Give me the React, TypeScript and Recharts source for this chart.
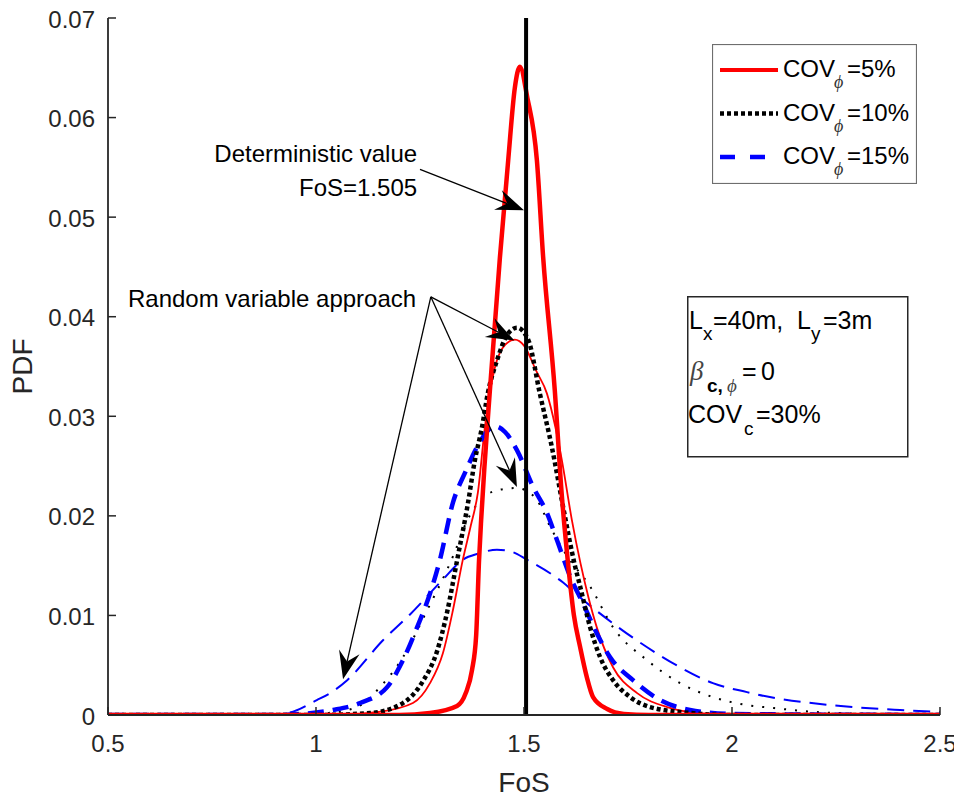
import React from 'react';
import { LineChart, Line, XAxis, YAxis, ReferenceLine, ReferenceDot, Legend } from 'recharts';

const FONT = '"Liberation Sans", Arial, Helvetica, sans-serif';
const SERIF = '"Liberation Serif", "DejaVu Serif", serif';
const AX = '#262626';

const xTicks = [0.5, 1, 1.5, 2, 2.5];
const yTicks = [0, 0.01, 0.02, 0.03, 0.04, 0.05, 0.06, 0.07];

// COV_phi = 5 %, random field (thick red)
const rf5Pts = [
  [0.5, 0], [1.2, 0], [1.274, 0.0002], [1.339, 0.0009], [1.36, 0.0022], [1.375, 0.0045], [1.385, 0.008],
  [1.392, 0.0156], [1.397, 0.0196], [1.405, 0.025], [1.418, 0.0326], [1.442, 0.0459], [1.462, 0.0557],
  [1.478, 0.063], [1.49, 0.0651], [1.508, 0.062], [1.531, 0.0557], [1.546, 0.046],
  [1.574, 0.0326], [1.591, 0.022], [1.605, 0.0156], [1.62, 0.01], [1.635, 0.0068], [1.651, 0.0038],
  [1.666, 0.0018], [1.7, 0.0006], [1.74, 0.0001], [1.8, 0], [2.5, 0],
];
// COV_phi = 5 %, random variable approach (thin red)
const rv5Pts = [
  [0.5, 0], [1.05, 0], [1.15, 0.0003], [1.233, 0.0012], [1.274, 0.0032], [1.305, 0.0062], [1.329, 0.0105],
  [1.353, 0.0156], [1.372, 0.019], [1.389, 0.0223], [1.406, 0.0289], [1.43, 0.0349], [1.455, 0.0372],
  [1.478, 0.0377], [1.5, 0.0371], [1.53, 0.0345], [1.555, 0.0323], [1.575, 0.029], [1.591, 0.0256],
  [1.615, 0.0196], [1.636, 0.0152], [1.655, 0.0118], [1.675, 0.0088], [1.714, 0.0048], [1.772, 0.0022],
  [1.844, 0.0008], [1.95, 0.0001], [2.1, 0], [2.5, 0],
];
// COV_phi = 10 %, random field (thick black dotted)
const rf10Pts = [
  [0.5, 0], [1.0, 0], [1.13, 0.0002], [1.209, 0.0012], [1.257, 0.0034], [1.291, 0.0064], [1.315, 0.0103],
  [1.339, 0.0155], [1.365, 0.0212], [1.382, 0.0256], [1.399, 0.0289], [1.413, 0.0323], [1.435, 0.0356],
  [1.46, 0.0382], [1.483, 0.0389], [1.51, 0.0377], [1.538, 0.0323], [1.567, 0.0269], [1.594, 0.0209],
  [1.623, 0.0149], [1.635, 0.0129], [1.659, 0.0088], [1.683, 0.0058], [1.714, 0.0035], [1.755, 0.0018],
  [1.803, 0.0008], [1.9, 0.0002], [2.0, 0], [2.5, 0],
];
// COV_phi = 10 %, random variable approach (thin black dotted)
const rv10Pts = [
  [0.5, 0], [0.95, 0], [1.03, 0.0002], [1.099, 0.0008], [1.154, 0.0028], [1.209, 0.0058], [1.267, 0.0105],
  [1.33, 0.016], [1.363, 0.0195], [1.394, 0.0215], [1.43, 0.0225], [1.483, 0.0228], [1.502, 0.0226],
  [1.531, 0.0216], [1.563, 0.0189], [1.603, 0.016], [1.659, 0.0129], [1.714, 0.0088], [1.796, 0.0055],
  [1.875, 0.0032], [1.954, 0.0018], [2.036, 0.001], [2.1, 0.0007], [2.2, 0.0003], [2.35, 0.0001], [2.5, 0],
];
// COV_phi = 15 %, random field (thick blue dashed)
const rf15Pts = [
  [0.5, 0], [0.9, 0], [0.962, 0.0001], [1.041, 0.0005], [1.106, 0.0012], [1.171, 0.0028], [1.209, 0.0055],
  [1.243, 0.0088], [1.274, 0.0122], [1.298, 0.0156], [1.329, 0.0213], [1.36, 0.0245], [1.387, 0.0269],
  [1.43, 0.029], [1.455, 0.0284], [1.483, 0.0266], [1.522, 0.0229], [1.555, 0.0203], [1.579, 0.0176],
  [1.611, 0.0139], [1.642, 0.0112], [1.675, 0.0082], [1.707, 0.0058], [1.762, 0.0035], [1.827, 0.0015],
  [1.899, 0.0005], [2.0, 0.0001], [2.5, 0],
];
// COV_phi = 15 %, random variable approach (thin blue dashed)
const rv15Pts = [
  [0.5, 0], [0.85, 0], [0.93, 0.0002], [1.002, 0.0015], [1.034, 0.0022], [1.075, 0.0035], [1.161, 0.0075],
  [1.226, 0.0101], [1.305, 0.0136], [1.353, 0.0156], [1.39, 0.0162], [1.435, 0.0166], [1.47, 0.0164],
  [1.507, 0.0156], [1.594, 0.0133], [1.635, 0.0118], [1.714, 0.0092], [1.796, 0.0068], [1.875, 0.0048],
  [1.954, 0.0032], [2.036, 0.0023], [2.091, 0.0018], [2.236, 0.001], [2.404, 0.0005], [2.5, 0.0003],
];
// deterministic FoS
const detPts = [[1.505, 0], [1.505, 0.07]];

const toPts = (arr: number[][]) => arr.map(([x, y]) => ({ x, y }));
const rf5 = toPts(rf5Pts);
const rv5 = toPts(rv5Pts);
const rf10 = toPts(rf10Pts);
const rv10 = toPts(rv10Pts);
const rf15 = toPts(rf15Pts);
const rv15 = toPts(rv15Pts);
const det = toPts(detPts);

const seriesNames = ['COVϕ=5%', 'COVϕ=10%', 'COVϕ=15%'];
const legendStyle: Record<string, { color: string; w: number; dash?: string }> = {
  'COVϕ=5%': { color: '#ff0000', w: 4 },
  'COVϕ=10%': { color: '#000000', w: 4.5, dash: '4 3' },
  'COVϕ=15%': { color: '#0000ff', w: 4.5, dash: '15 15' },
};

const BottomTick = (p: any) => {
  const { x, y, payload } = p;
  return (
    <g>
      <line x1={x} y1={y} x2={x} y2={y - 8} stroke={AX} strokeWidth={1.5} />
      <text x={x} y={y + 37} textAnchor="middle" fontSize={24} fontFamily={FONT} fill={AX}>
        {payload.value}
      </text>
    </g>
  );
};
const TopTick = (p: any) => {
  const { x, y } = p;
  return <line x1={x} y1={y} x2={x} y2={y + 8} stroke={AX} strokeWidth={1.5} />;
};
const LeftTick = (p: any) => {
  const { x, y, payload } = p;
  return (
    <g>
      <line x1={x} y1={y} x2={x + 8} y2={y} stroke={AX} strokeWidth={1.5} />
      <text x={x - 13} y={y + 9.5} textAnchor="end" fontSize={24} fontFamily={FONT} fill={AX}>
        {payload.value}
      </text>
    </g>
  );
};
const RightTick = (p: any) => {
  const { x, y } = p;
  return <line x1={x} y1={y} x2={x - 8} y2={y} stroke={AX} strokeWidth={1.5} />;
};

const XLabel = (p: any) => {
  const vb = p.viewBox || {};
  return (
    <text x={vb.x + vb.width / 2} y={vb.y + 77} textAnchor="middle" fontSize={28} fontFamily={FONT} fill={AX}>
      FoS
    </text>
  );
};
const YLabel = (p: any) => {
  const vb = p.viewBox || {};
  const cx = vb.x + vb.width - 76;
  const cy = vb.y + vb.height / 2;
  return (
    <text x={cx} y={cy} transform={`rotate(-90 ${cx} ${cy})`} textAnchor="middle" fontSize={28} fontFamily={FONT} fill={AX}>
      PDF
    </text>
  );
};

const Arrow = (props: any) => {
  const { x1, y1, x2, y2 } = props;
  if ([x1, y1, x2, y2].some((v) => typeof v !== 'number' || isNaN(v))) return null;
  const dx = x2 - x1;
  const dy = y2 - y1;
  const len = Math.hypot(dx, dy) || 1;
  const ux = dx / len;
  const uy = dy / len;
  const L = 28;
  const W = 10.5;
  const N = 18;
  const bx = x2 - ux * L;
  const by = y2 - uy * L;
  const nx = x2 - ux * N;
  const ny = y2 - uy * N;
  const px = -uy;
  const py = ux;
  const pts = `${x2},${y2} ${bx + px * W},${by + py * W} ${nx},${ny} ${bx - px * W},${by - py * W}`;
  return (
    <g>
      <line x1={x1} y1={y1} x2={nx} y2={ny} stroke="#000" strokeWidth={1.3} />
      <polygon points={pts} fill="#000" />
    </g>
  );
};

const textShape = (label: string, anchor: 'start' | 'end') => (p: any) => (
  <text x={p.cx} y={p.cy} textAnchor={anchor} fontSize={24} fontFamily={FONT} fill="#000">
    {label}
  </text>
);

const renderLegend = (props: any) => {
  const payload = (props.payload || [])
    .filter((e: any) => seriesNames.includes(e.value))
    .sort((a: any, b: any) => seriesNames.indexOf(a.value) - seriesNames.indexOf(b.value));
  return (
    <svg width={205} height={140} style={{ display: 'block' }}>
      <rect x={0.5} y={0.5} width={204} height={139} fill="#ffffff" stroke="#6e6e6e" strokeWidth={1.2} />
      {payload.map((e: any, i: number) => {
        const cy = 26 + i * 43.5;
        const st = legendStyle[e.value];
        const [pre, post] = String(e.value).split('ϕ');
        return (
          <g key={e.value}>
            <line x1={8} x2={66} y1={cy} y2={cy} stroke={st.color} strokeWidth={st.w} strokeDasharray={st.dash} />
            <text fontSize={24} fontFamily={FONT} fill="#000">
              <tspan x={71} y={cy + 7}>{pre}</tspan>
              <tspan x={122} y={cy + 18} fontSize={18} fontFamily={SERIF} fontStyle="italic" fill="#333">ϕ</tspan>
              <tspan x={135} y={cy + 7}>{post}</tspan>
            </text>
          </g>
        );
      })}
    </svg>
  );
};

const InfoBox = () => (
  <svg width={222} height={162} style={{ position: 'absolute', left: 687, top: 296 }}>
    <rect x={0.75} y={0.75} width={220} height={160} fill="#ffffff" stroke="#262626" strokeWidth={1.5} />
    <text fontSize={25} fontFamily={FONT} fill="#000">
      <tspan x={2} y={33}>L</tspan>
      <tspan x={16} y={44} fontSize={19}>x</tspan>
      <tspan x={26} y={33}>=40m,</tspan>
      <tspan x={110} y={33}>L</tspan>
      <tspan x={124} y={44} fontSize={19}>y</tspan>
      <tspan x={136} y={33}>=3m</tspan>
    </text>
    <text fontSize={25} fontFamily={FONT} fill="#000">
      <tspan x={3} y={84} fontFamily={SERIF} fontStyle="italic" fontSize={27} fill="#444">β</tspan>
      <tspan x={20} y={96} fontSize={19} fontWeight="bold">c,</tspan>
      <tspan x={40} y={96} fontSize={19} fontFamily={SERIF} fontStyle="italic" fill="#444">ϕ</tspan>
      <tspan x={55} y={84}>=</tspan>
      <tspan x={74} y={84}>0</tspan>
    </text>
    <text fontSize={25} fontFamily={FONT} fill="#000">
      <tspan x={1} y={127}>COV</tspan>
      <tspan x={57} y={139} fontSize={19}>c</tspan>
      <tspan x={69} y={127}>=30%</tspan>
    </text>
  </svg>
);

export default function App() {
  const common = { xAxisId: 'b', yAxisId: 'l', dataKey: 'y', dot: false, isAnimationActive: false, activeDot: false } as any;
  return (
    <div style={{ position: 'relative', width: 962, height: 803, margin: '-8px 0 -8px -8px', background: '#fff' }}>
      <LineChart width={962} height={803} margin={{ top: 18, right: 22, bottom: 0, left: 8 }}>
        <XAxis
          xAxisId="b"
          type="number"
          dataKey="x"
          domain={[0.5, 2.5]}
          ticks={xTicks}
          interval={0}
          allowDataOverflow
          height={88}
          tickSize={0}
          tickMargin={0}
          tickLine={false}
          tick={<BottomTick />}
          axisLine={{ stroke: AX, strokeWidth: 1.8 }}
          label={<XLabel />}
        />
        <XAxis
          xAxisId="t"
          orientation="top"
          type="number"
          dataKey="x"
          domain={[0.5, 2.5]}
          ticks={xTicks}
          interval={0}
          allowDataOverflow
          height={0}
          tickSize={0}
          tickMargin={0}
          tickLine={false}
          tick={<TopTick />}
          axisLine={{ stroke: AX, strokeWidth: 1.8 }}
        />
        <YAxis
          yAxisId="l"
          type="number"
          domain={[0, 0.07]}
          ticks={yTicks}
          interval={0}
          allowDataOverflow
          width={100}
          tickSize={0}
          tickMargin={0}
          tickLine={false}
          tick={<LeftTick />}
          axisLine={{ stroke: AX, strokeWidth: 1.8 }}
          label={<YLabel />}
        />
        <YAxis
          yAxisId="r"
          orientation="right"
          type="number"
          domain={[0, 0.07]}
          ticks={yTicks}
          interval={0}
          allowDataOverflow
          width={0}
          tickSize={0}
          tickMargin={0}
          tickLine={false}
          tick={<RightTick />}
          axisLine={{ stroke: AX, strokeWidth: 1.8 }}
        />
        <Legend
          layout="vertical"
          align="center"
          verticalAlign="middle"
          content={renderLegend}
          wrapperStyle={{ left: 712, top: 44, width: 205, height: 140 }}
        />

        <Line {...common} data={rv15} name="rv15" legendType="none" type="monotone" stroke="#0000ff" strokeWidth={2} strokeDasharray="17 9" />
        <Line {...common} data={rv10} name="rv10" legendType="none" type="monotone" stroke="#000000" strokeWidth={2} strokeDasharray="2 9" />
        <Line {...common} data={rv5} name="rv5" legendType="none" type="monotone" stroke="#ff0000" strokeWidth={1.8} />
        <Line {...common} data={rf15} name="COVϕ=15%" type="monotone" stroke="#0000ff" strokeWidth={4.5} strokeDasharray="16 9" />
        <Line {...common} data={rf10} name="COVϕ=10%" type="monotone" stroke="#000000" strokeWidth={4.5} strokeDasharray="4 3" />
        <Line {...common} data={rf5} name="COVϕ=5%" type="monotone" stroke="#ff0000" strokeWidth={4.5} />
        <Line {...common} data={det} name="det" legendType="none" type="linear" stroke="#000000" strokeWidth={4} />

        <ReferenceDot xAxisId="b" yAxisId="l" x={1.243} y={0.0555} r={0} shape={textShape('Deterministic value', 'end')} />
        <ReferenceDot xAxisId="b" yAxisId="l" x={1.243} y={0.0521} r={0} shape={textShape('FoS=1.505', 'end')} />
        <ReferenceDot xAxisId="b" yAxisId="l" x={0.548} y={0.041} r={0} shape={textShape('Random variable approach', 'start')} />

        <ReferenceLine xAxisId="b" yAxisId="l" segment={[{ x: 1.25, y: 0.0548 }, { x: 1.5, y: 0.0507 }]} shape={Arrow} />
        <ReferenceLine xAxisId="b" yAxisId="l" segment={[{ x: 1.276, y: 0.042 }, { x: 1.477, y: 0.0376 }]} shape={Arrow} />
        <ReferenceLine xAxisId="b" yAxisId="l" segment={[{ x: 1.276, y: 0.042 }, { x: 1.483, y: 0.0229 }]} shape={Arrow} />
        <ReferenceLine xAxisId="b" yAxisId="l" segment={[{ x: 1.276, y: 0.042 }, { x: 1.065, y: 0.0036 }]} shape={Arrow} />
      </LineChart>
      <InfoBox />
    </div>
  );
}
